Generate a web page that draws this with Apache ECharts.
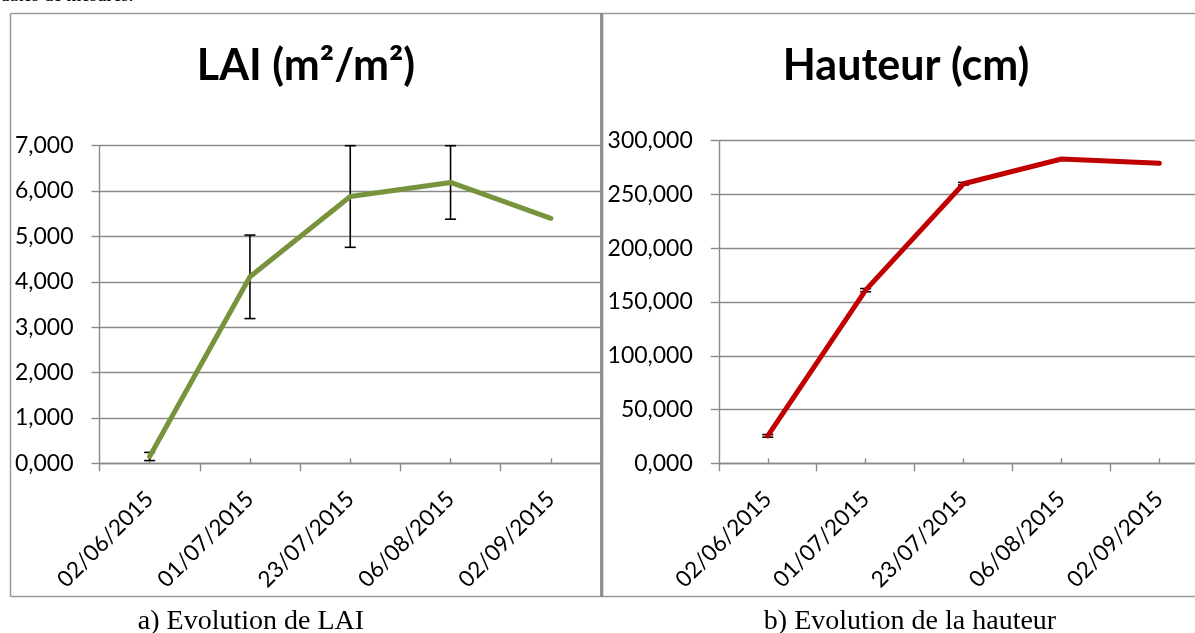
<!DOCTYPE html>
<html>
<head>
<meta charset="utf-8">
<script src="https://cdn.jsdelivr.net/npm/echarts@6/dist/echarts.min.js"></script>
<style>
  html, body { margin: 0; padding: 0; background: #ffffff; }
  #chart { width: 1195px; height: 633px; }
</style>
</head>
<body>
<div id="chart"></div>
<script>
// Measurement dates shared by both panels
const dates = ['02/06/2015', '01/07/2015', '23/07/2015', '06/08/2015', '02/09/2015'];

// Leaf area index (m²/m²) and its standard deviation
const lai = [0.15, 4.11, 5.88, 6.19, 5.40];
const laiErr = [0.09, 0.92, 1.12, 0.81, null];

// Plant height (cm) and its standard deviation
const hauteur = [25.5, 161, 260, 283, 279];
const hauteurErr = [1.2, 1.5, 1.2, null, null];

// Value axis ranges
const laiAxis = { min: 0, max: 7, interval: 1 };
const hauteurAxis = { min: 0, max: 300, interval: 50 };

const GRID_GREY = '#8a8a8a';
const FRAME_GREY = '#9a9a9a';
const LABEL_FONT = 'Lato';

function frValue(v) {
  return v.toFixed(3).replace('.', ',');
}

function errorData(values, errs) {
  const out = [];
  values.forEach((v, i) => {
    if (errs[i] != null) out.push([i, v, errs[i]]);
  });
  return out;
}

function renderErrorBar(params, api) {
  const i = api.value(0);
  const v = api.value(1);
  const e = api.value(2);
  const top = api.coord([i, v + e]);
  const bot = api.coord([i, v - e]);
  const half = 5.5;
  const style = { stroke: '#000', lineWidth: 1.6 };
  return {
    type: 'group',
    children: [
      { type: 'line', shape: { x1: top[0], y1: top[1], x2: bot[0], y2: bot[1] }, style },
      { type: 'line', shape: { x1: top[0] - half, y1: top[1], x2: top[0] + half, y2: top[1] }, style },
      { type: 'line', shape: { x1: bot[0] - half, y1: bot[1], x2: bot[0] + half, y2: bot[1] }, style }
    ]
  };
}

function categoryAxes(gridIndex) {
  return [
    {
      type: 'category',
      gridIndex,
      data: dates,
      position: 'bottom',
      boundaryGap: true,
      axisLine: { show: true, lineStyle: { color: GRID_GREY, width: 1.4 } },
      axisTick: { show: true, inside: false, length: 8, lineStyle: { color: GRID_GREY, width: 1.4 } },
      axisLabel: {
        interval: 0, rotate: 45, margin: 32,
        fontFamily: LABEL_FONT, fontSize: 22.5, color: '#000'
      }
    },
    {
      type: 'category',
      gridIndex,
      data: dates,
      position: 'bottom',
      boundaryGap: true,
      axisLine: { show: false },
      axisTick: { show: true, inside: true, alignWithLabel: true, length: 5, lineStyle: { color: GRID_GREY, width: 1.4 } },
      axisLabel: { show: false },
      splitLine: { show: false }
    }
  ];
}

function valueAxis(gridIndex, range) {
  return {
    type: 'value',
    gridIndex,
    min: range.min,
    max: range.max,
    interval: range.interval,
    axisLine: { show: true, lineStyle: { color: GRID_GREY, width: 1.4 } },
    axisTick: { show: true, inside: false, length: 8, lineStyle: { color: GRID_GREY, width: 1.4 } },
    splitLine: { show: true, lineStyle: { color: GRID_GREY, width: 1.4 } },
    axisLabel: {
      margin: 26, fontFamily: LABEL_FONT, fontSize: 23, color: '#000',
      formatter: frValue
    }
  };
}

const chart = echarts.init(document.getElementById('chart'), null, { renderer: 'canvas' });

chart.setOption({
  animation: false,
  backgroundColor: '#ffffff',
  grid: [
    { left: 99.5, top: 145.7, width: 501.5, height: 317.6, outerBoundsMode: 'none', containLabel: false },
    // the height panel runs past the right edge of the page
    { left: 718.8, top: 140.7, width: 489.5, height: 322.6, outerBoundsMode: 'none', containLabel: false }
  ],
  xAxis: [...categoryAxes(0), ...categoryAxes(1)],
  yAxis: [valueAxis(0, laiAxis), valueAxis(1, hauteurAxis)],
  series: [
    {
      type: 'custom',
      xAxisIndex: 0, yAxisIndex: 0,
      data: errorData(lai, laiErr),
      renderItem: renderErrorBar,
      z: 1, silent: true
    },
    {
      type: 'line',
      xAxisIndex: 0, yAxisIndex: 0,
      data: lai,
      showSymbol: false,
      lineStyle: { color: '#77933C', width: 5, cap: 'round', join: 'round' },
      z: 2
    },
    {
      type: 'custom',
      xAxisIndex: 2, yAxisIndex: 1,
      data: errorData(hauteur, hauteurErr),
      renderItem: renderErrorBar,
      z: 1, silent: true
    },
    {
      type: 'line',
      xAxisIndex: 2, yAxisIndex: 1,
      data: hauteur,
      showSymbol: false,
      lineStyle: { color: '#C00000', width: 5, cap: 'round', join: 'round' },
      z: 2
    }
  ],
  graphic: [
    // running text of the page above the figure
    { type: 'text', silent: true, x: 0, y: -4,
      style: { text: 'dates de mesures.', font: '19px "Liberation Serif"', fill: '#000', align: 'left', verticalAlign: 'middle' } },
    // frames of the two panels
    { type: 'line', silent: true, shape: { x1: 10.5, y1: 13.5, x2: 1195, y2: 13.5 }, style: { stroke: FRAME_GREY, lineWidth: 1.5 } },
    { type: 'line', silent: true, shape: { x1: 10.5, y1: 596.5, x2: 1195, y2: 596.5 }, style: { stroke: FRAME_GREY, lineWidth: 1.5 } },
    { type: 'line', silent: true, shape: { x1: 10.5, y1: 13.5, x2: 10.5, y2: 596.5 }, style: { stroke: FRAME_GREY, lineWidth: 1.5 } },
    { type: 'line', silent: true, z: 100, shape: { x1: 601.7, y1: 13, x2: 601.7, y2: 597 }, style: { stroke: '#8c8c8c', lineWidth: 3.2 } },
    // panel titles
    { type: 'text', silent: true, x: 306, y: 66,
      style: { text: 'LAI (m²/m²)', font: 'bold 43px Lato', fill: '#000', align: 'center', verticalAlign: 'middle' } },
    { type: 'text', silent: true, x: 906, y: 66,
      style: { text: 'Hauteur (cm)', font: 'bold 43px Lato', fill: '#000', align: 'center', verticalAlign: 'middle' } },
    // captions
    { type: 'text', silent: true, x: 251, y: 622,
      style: { text: 'a) Evolution de LAI', font: '28px "Liberation Serif"', fill: '#000', align: 'center', verticalAlign: 'middle' } },
    { type: 'text', silent: true, x: 910, y: 622,
      style: { text: 'b) Evolution de la hauteur', font: '28px "Liberation Serif"', fill: '#000', align: 'center', verticalAlign: 'middle' } }
  ]
});
</script>
</body>
</html>
